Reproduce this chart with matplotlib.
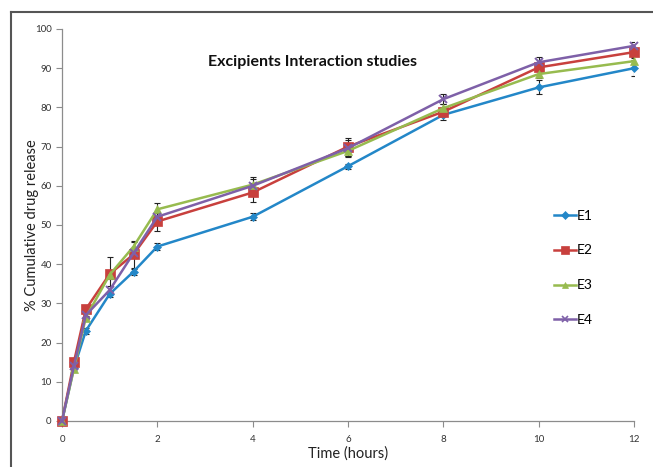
import numpy as np
import matplotlib
matplotlib.use("Agg")
import matplotlib.pyplot as plt
from matplotlib.lines import Line2D

plt.rcParams['font.family'] = ['Lato', 'DejaVu Sans']

# time points (hours)
tiempo = [0, 0.25, 0.5, 1, 1.5, 2, 4, 6, 8, 10, 12]

# % cumulative drug release for each batch
e1 = [0, 13.5, 23.0, 32.4, 38.1, 44.5, 52.1, 65.0, 78.1, 85.1, 90.0]
e2 = [0, 15.0, 28.5, 37.5, 42.5, 50.9, 58.3, 70.0, 78.9, 90.2, 94.1]
e3 = [0, 13.3, 26.4, 37.3, 44.5, 54.0, 60.3, 68.9, 79.8, 88.5, 91.8]
e4 = [0, 14.0, 27.0, 33.4, 42.8, 52.1, 60.0, 69.6, 82.1, 91.5, 95.7]

# standard deviations (error bars)
err1 = [0, 0, 0.8, 0.8, 0.8, 0.8, 0.9, 0.6, 1.4, 1.8, 2.1]
err2 = [0, 0, 0.8, 4.3, 3.5, 2.5, 2.5, 2.3, 1.0, 1.0, 1.2]
err3 = [0, 0, 0.5, 1.0, 1.2, 1.6, 1.5, 1.5, 1.0, 1.0, 0.8]
err4 = [0, 0, 0.5, 1.0, 1.0, 1.0, 2.3, 2.0, 1.3, 1.3, 1.0]

etiquetas = ['E1', 'E2', 'E3', 'E4']
colores = ['#2387C8', '#C8403D', '#97BB4F', '#7E60A8']
marcadores = ['D', 's', '^', 'x']
tamanos = [4.5, 6.5, 6, 6]

fig = plt.figure(figsize=(6.53, 4.67), dpi=100)
ax = fig.add_axes([62/653, 1 - 421/467, (634 - 62)/653, (421 - 29)/467])

series = [e1, e2, e3, e4]
errores = [err1, err2, err3, err4]
for y, e, lab, c, m, ms in zip(series, errores, etiquetas, colores, marcadores, tamanos):
    ax.errorbar(tiempo, y, yerr=e, fmt='none', ecolor='#222222', elinewidth=0.8,
                capsize=2.2, capthick=0.8, zorder=2)
    ax.plot(tiempo, y, color=c, lw=1.8, marker=m, ms=ms, mew=1.4 if m == 'x' else 0.5,
            mec=c, label=lab, zorder=3, clip_on=False)

ax.set_xlim(0, 12)
ax.set_ylim(0, 100)
ax.set_xticks(range(0, 13, 2))
ax.set_yticks(range(0, 101, 10))
for s in ['top', 'right']:
    ax.spines[s].set_visible(False)
for s in ['left', 'bottom']:
    ax.spines[s].set_color('#8c8c8c')
    ax.spines[s].set_linewidth(0.9)
ax.tick_params(axis='both', direction='out', length=4, width=0.8, color='#8c8c8c',
               labelsize=7, labelcolor='#333333')
ax.tick_params(axis='x', pad=6)

ax.set_xlabel('Time (hours)', fontsize=10.5, color='#222222', labelpad=2)
ax.set_ylabel('% Cumulative drug release', fontsize=10.5, color='#222222')
ax.yaxis.set_label_coords((39 - 62)/572, 0.5)

fig.text(312/653, 1 - 62/467, 'Excipients Interaction studies', fontsize=11.5,
         fontweight='bold', ha='center', va='center', color='#111111')

handles = [Line2D([0], [0], color=c, lw=1.8, marker=m, ms=ms * 0.8,
                  mew=1.2 if m == 'x' else 0.5, mec=c)
           for c, m, ms in zip(colores, marcadores, tamanos)]
ax.legend(handles, etiquetas, loc='upper left', bbox_to_anchor=((548 - 62)/572, (421 - 204)/392),
          frameon=False, fontsize=10, handlelength=1.6, handletextpad=0.1,
          labelspacing=1.65, borderaxespad=0)

# outer frame lines
fig.add_artist(Line2D([11/653, 11/653], [0, 1 - 12/467], transform=fig.transFigure,
                      color='#555555', lw=1.5))
fig.add_artist(Line2D([11/653, 1], [1 - 12/467, 1 - 12/467], transform=fig.transFigure,
                      color='#555555', lw=1.5))

fig.savefig('out.png', dpi=100)
